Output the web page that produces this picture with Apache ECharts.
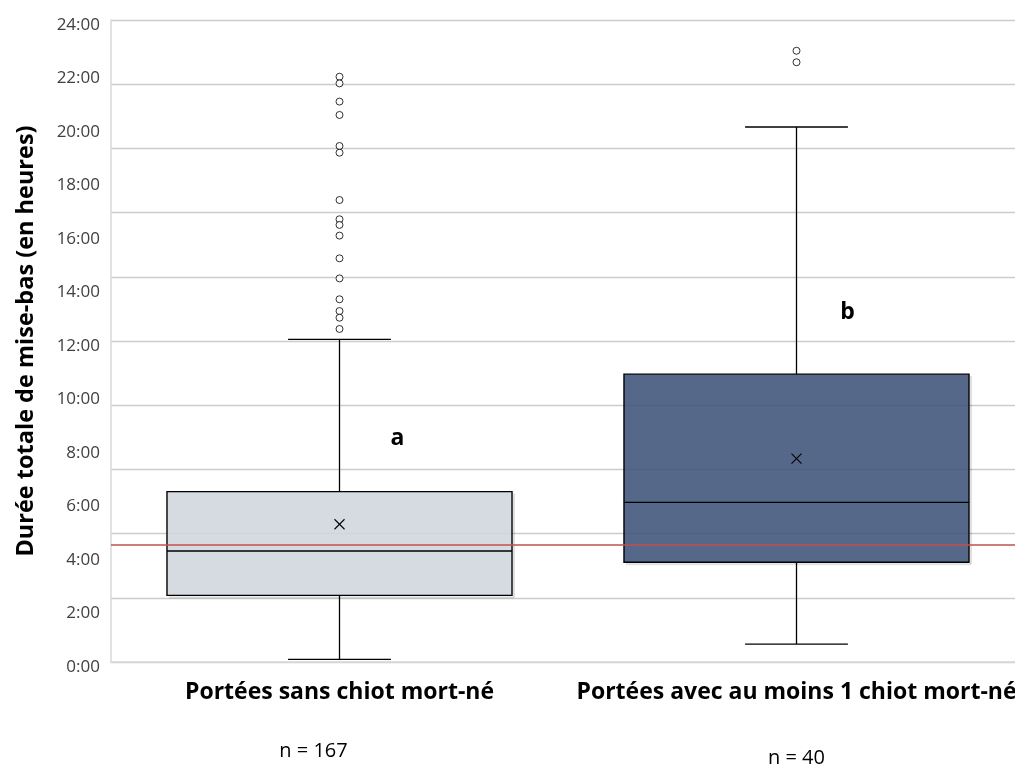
<!DOCTYPE html>
<html>
<head>
<meta charset="utf-8">
<script src="https://cdn.jsdelivr.net/npm/echarts@6/dist/echarts.min.js"></script>
<style>html,body{margin:0;padding:0;background:#fff;}#c{width:1015px;height:764px;}</style>
</head>
<body>
<div id="c"></div>
<script>
const categories = ['Portées sans chiot mort-né', 'Portées avec au moins 1 chiot mort-né'];
const sampleSizes = ['n = 167', 'n = 40'];
const whiskerLow = [0.1, 0.67];
const q1 = [2.49, 3.73];
const median = [4.15, 5.97];
const q3 = [6.37, 10.76];
const whiskerHigh = [12.06, 20.0];
const mean = [5.15, 7.6];
const outliersA = [21.88, 21.63, 20.95, 20.45, 19.29, 19.04, 17.27, 16.55, 16.34, 15.94, 15.09, 14.34, 13.56, 13.12, 12.87, 12.45];
const outliersB = [22.85, 22.42];
const groupLetters = ['a', 'b'];
const letterY = [8.37, 13.05];
const referenceLine = 4.4;
const yTickLabels = ['0:00','2:00','4:00','6:00','8:00','10:00','12:00','14:00','16:00','18:00','20:00','22:00','24:00'];

const boxFills = ['rgba(208,214,222,0.87)', 'rgba(60,82,120,0.87)'];
const FONT = 'Open Sans';

const boxData = categories.map((c, i) => [i, whiskerLow[i], q1[i], median[i], q3[i], whiskerHigh[i], mean[i]]);
const outlierData = [];
outliersA.forEach(v => outlierData.push([0, v]));
outliersB.forEach(v => outlierData.push([1, v]));

const chart = echarts.init(document.getElementById('c'), null, {renderer: 'canvas'});

function renderBox(params, api) {
  const i = api.value(0);
  const band = api.size([1, 0])[0];
  const bw = band * 0.755;
  const cw = band * 0.225;
  const pMin = api.coord([i, api.value(1)]);
  const pQ1 = api.coord([i, api.value(2)]);
  const pMed = api.coord([i, api.value(3)]);
  const pQ3 = api.coord([i, api.value(4)]);
  const pMax = api.coord([i, api.value(5)]);
  const pMean = api.coord([i, api.value(6)]);
  const x = pMin[0];
  const line = {stroke: '#000', lineWidth: 1.3};
  const m = 5;
  return {
    type: 'group',
    children: [
      {type: 'line', shape: {x1: x, y1: pMax[1], x2: x, y2: pQ3[1]}, style: line},
      {type: 'line', shape: {x1: x, y1: pQ1[1], x2: x, y2: pMin[1]}, style: line},
      {type: 'line', shape: {x1: x - cw / 2, y1: pMax[1], x2: x + cw / 2, y2: pMax[1]}, style: line},
      {type: 'line', shape: {x1: x - cw / 2, y1: pMin[1], x2: x + cw / 2, y2: pMin[1]}, style: line},
      {type: 'line', shape: {x1: x - bw / 2 + 2, y1: pQ1[1] + 2, x2: x + bw / 2 + 2, y2: pQ1[1] + 2}, style: {stroke: 'rgba(0,0,0,0.12)', lineWidth: 2}},
      {type: 'line', shape: {x1: x + bw / 2 + 2, y1: pQ3[1] + 2, x2: x + bw / 2 + 2, y2: pQ1[1] + 2}, style: {stroke: 'rgba(0,0,0,0.12)', lineWidth: 2}},
      {type: 'rect', shape: {x: x - bw / 2, y: pQ3[1], width: bw, height: pQ1[1] - pQ3[1]},
        style: {fill: boxFills[i], stroke: '#000', lineWidth: 1.4}},
      {type: 'line', shape: {x1: x - bw / 2, y1: pMed[1], x2: x + bw / 2, y2: pMed[1]}, style: line},
      {type: 'line', shape: {x1: pMean[0] - m, y1: pMean[1] - m, x2: pMean[0] + m, y2: pMean[1] + m}, style: {stroke: '#000', lineWidth: 1.1}},
      {type: 'line', shape: {x1: pMean[0] - m, y1: pMean[1] + m, x2: pMean[0] + m, y2: pMean[1] - m}, style: {stroke: '#000', lineWidth: 1.1}}
    ]
  };
}

function renderLetter(params, api) {
  const p = api.coord([api.value(0), api.value(1)]);
  const dx = params.dataIndex === 0 ? 58 : 51;
  return {
    type: 'text',
    x: p[0] + dx,
    y: p[1],
    style: {
      text: groupLetters[params.dataIndex],
      fill: '#000',
      font: 'bold 23px "Open Sans"',
      align: 'center',
      verticalAlign: 'middle'
    }
  };
}

const option = {
  animation: false,
  backgroundColor: '#fff',
  textStyle: {fontFamily: FONT},
  grid: {left: 111, width: 914, top: 20, bottom: 102, containLabel: false, outerBoundsMode: 'none'},
  xAxis: {
    type: 'category',
    data: categories,
    axisTick: {show: false},
    axisLine: {show: true, lineStyle: {color: '#d9d9d9', width: 1.5}},
    splitLine: {show: false},
    axisLabel: {
      interval: 0,
      margin: 14,
      formatter: function (v, idx) {
        return '{t|' + v + '}\n{n' + idx + '|' + sampleSizes[idx] + '}';
      },
      rich: {
        t: {fontFamily: FONT, fontWeight: 'bold', fontSize: 23, color: '#000', lineHeight: 32},
        n0: {fontFamily: FONT, fontSize: 20, color: '#000', lineHeight: 86, padding: [0, 52, 0, 0]},
        n1: {fontFamily: FONT, fontSize: 20, color: '#000', lineHeight: 86, padding: [14, 0, 0, 0]}
      }
    }
  },
  yAxis: [
    {
      type: 'value', min: 0, max: 24, interval: 2,
      name: 'Durée totale de mise-bas (en heures)',
      nameLocation: 'middle', nameGap: 73, nameRotate: 90,
      nameTextStyle: {fontFamily: FONT, fontWeight: 'bold', fontSize: 23.5, color: '#000'},
      axisLine: {show: true, lineStyle: {color: '#d9d9d9', width: 1.5}},
      axisTick: {show: false},
      splitLine: {show: false},
      axisLabel: {
        margin: 11, color: '#404040', fontSize: 17, fontFamily: FONT,
        verticalAlign: 'top', lineHeight: 10,
        formatter: function (v) { return yTickLabels[Math.round(v / 2)]; }
      }
    },
    {
      type: 'value', min: 0, max: 24, interval: 2.4, position: 'left',
      axisLine: {show: false}, axisTick: {show: false}, axisLabel: {show: false},
      splitLine: {show: true, lineStyle: {color: '#cccccc', width: 1.3}}
    }
  ],
  series: [
    {
      type: 'custom',
      renderItem: renderBox,
      data: boxData,
      encode: {x: 0, y: [1, 2, 3, 4, 5, 6]},
      z: 2
    },
    {
      type: 'scatter',
      data: outlierData,
      symbol: 'circle',
      symbolSize: 7,
      itemStyle: {color: '#fff', borderColor: '#000', borderWidth: 1},
      z: 3,
      markLine: {
        silent: true,
        symbol: ['none', 'none'],
        label: {show: false},
        lineStyle: {color: '#c0504d', width: 1.5, type: 'solid'},
        data: [{yAxis: referenceLine}]
      }
    },
    {
      type: 'custom',
      renderItem: renderLetter,
      data: groupLetters.map((l, i) => [i, letterY[i]]),
      encode: {x: 0, y: 1},
      z: 4
    }
  ]
};
chart.setOption(option);
</script>
</body>
</html>
